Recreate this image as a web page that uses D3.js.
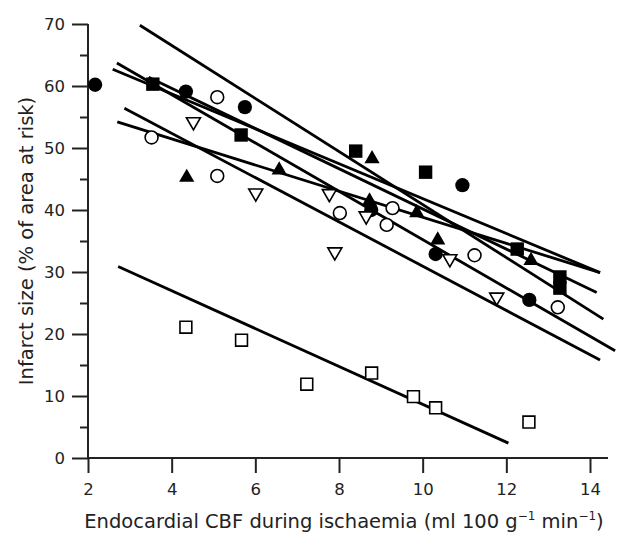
<!DOCTYPE html>
<html>
<head>
<meta charset="utf-8">
<script src="https://d3js.org/d3.v7.min.js"></script>
<style>
  body { margin: 0; background: #fff; }
  svg text { font-family: "DejaVu Sans", sans-serif; fill: #222; }
  .axis text { font-size: 16.5px; }
  .axis line, .axis path { stroke: #222; stroke-width: 2px; }
  .fit { stroke: #000; stroke-width: 2.8px; fill: none; }
</style>
</head>
<body>
<svg id="chart" width="618" height="534"></svg>
<script>
// points: [CBF, infarct size]
var filledCircles = [[2.17,60.2],[4.34,59.1],[5.75,56.6],[8.77,40.0],[10.31,32.9],[10.95,44.0],[12.55,25.5]];
var filledSquares = [[3.55,60.3],[5.66,52.1],[8.40,49.5],[10.07,46.1],[12.26,33.7],[13.28,29.2],[13.28,27.4]];
var filledTriangles = [[4.36,45.6],[6.57,46.8],[8.73,41.8],[8.79,48.6],[9.86,39.9],[10.36,35.5],[12.59,32.2]];
var openCircles = [[3.52,51.7],[5.09,58.2],[5.09,45.5],[8.02,39.5],[9.28,40.3],[9.14,37.6],[11.24,32.7],[13.23,24.3]];
var openTriangles = [[4.52,53.9],[6.01,42.4],[7.77,42.3],[7.90,32.9],[8.65,38.7],[10.65,31.8],[11.77,25.6]];
var openSquares = [[4.34,21.1],[5.67,19.0],[7.23,11.9],[8.78,13.7],[9.78,9.9],[10.31,8.1],[12.54,5.8]];

// regression lines: [x1, y1, x2, y2]
var fitLines = [
  [3.24,69.8,14.32,22.4],
  [2.69,63.7,14.60,17.3],
  [2.59,62.7,14.24,29.9],
  [3.45,61.4,14.16,26.7],
  [2.87,56.4,14.24,15.8],
  [2.70,54.2,14.24,29.9],
  [2.72,30.9,12.05,2.4]
];

var xTicks = [2,4,6,8,10,12,14];
var yTicks = [0,10,20,30,40,50,60,70];
var yMinor = [5,15,25,35,45,55,65];

var svg = d3.select("#chart");
var x = d3.scaleLinear().domain([2,14]).range([88,590]);
var y = d3.scaleLinear().domain([0,70]).range([458,24]);

// axes
var gx = svg.append("g").attr("class","axis").attr("transform","translate(0,458)")
  .call(d3.axisBottom(x).tickValues(xTicks).tickSize(15).tickPadding(10).tickSizeOuter(0));
gx.select(".domain").remove();
gx.append("line").attr("x1",x(2)).attr("x2",608).attr("y1",0).attr("y2",0);

var gy = svg.append("g").attr("class","axis").attr("transform","translate(88,0)")
  .call(d3.axisLeft(y).tickValues(yTicks).tickSize(16).tickPadding(7).tickSizeOuter(0));
gy.select(".domain").remove();
gy.append("line").attr("x1",0).attr("x2",0).attr("y1",y(70)).attr("y2",y(0));

svg.append("g").attr("class","axis").attr("transform","translate(88,0)")
  .call(d3.axisLeft(y).tickValues(yMinor).tickSize(8).tickFormat("").tickSizeOuter(0))
  .select(".domain").remove();

// lines
svg.append("g").selectAll("line").data(fitLines).enter().append("line")
  .attr("class","fit")
  .attr("x1",function(d){ return x(d[0]); })
  .attr("y1",function(d){ return y(d[1]); })
  .attr("x2",function(d){ return x(d[2]); })
  .attr("y2",function(d){ return y(d[3]); });

// symbols
function drawGroup(data, type, size, filled, rot, dy) {
  svg.append("g").selectAll("path").data(data).enter().append("path")
    .attr("d", d3.symbol().type(type).size(size))
    .attr("transform", function(d){
      return "translate(" + x(d[0]) + "," + (y(d[1]) + dy) + ") rotate(" + rot + ")";
    })
    .attr("fill", filled ? "#000" : "#fff")
    .attr("stroke", "#000")
    .attr("stroke-width", filled ? 0 : 1.6);
}
drawGroup(filledCircles, d3.symbolCircle, 160, true, 0, 0);
drawGroup(filledSquares, d3.symbolSquare, 180, true, 0, 0);
drawGroup(filledTriangles, d3.symbolTriangle, 100, true, 0, 2.2);
drawGroup(openCircles, d3.symbolCircle, 130, false, 0, 0);
drawGroup(openTriangles, d3.symbolTriangle, 85, false, 180, -2.1);
drawGroup(openSquares, d3.symbolSquare, 140, false, 0, 0);

// axis titles
svg.append("text")
  .attr("transform","translate(33,241) rotate(-90)")
  .attr("text-anchor","middle")
  .style("font-size","19.5px")
  .text("Infarct size (% of area at risk)");

var xl = svg.append("text")
  .attr("x",344).attr("y",528)
  .attr("text-anchor","middle")
  .style("font-size","19.5px");
xl.append("tspan").text("Endocardial CBF during ischaemia (ml 100 g");
xl.append("tspan").attr("dy",-8).style("font-size","12px").text("\u22121");
xl.append("tspan").attr("dy",8).text(" min");
xl.append("tspan").attr("dy",-8).style("font-size","12px").text("\u22121");
xl.append("tspan").attr("dy",8).text(")");
</script>
</body>
</html>
